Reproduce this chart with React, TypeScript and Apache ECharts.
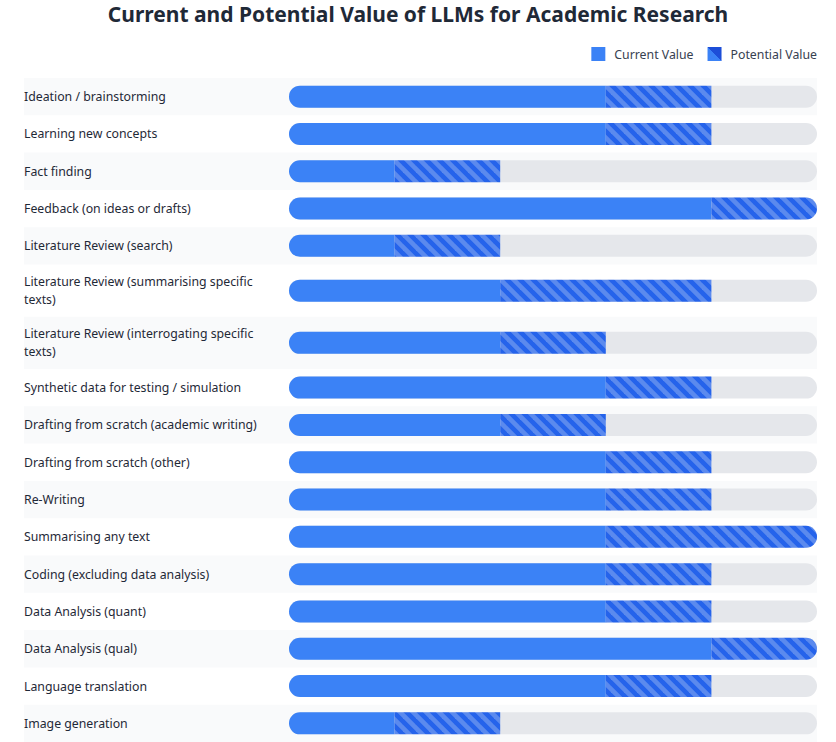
import React, { useEffect, useRef } from "react";
import * as echarts from "echarts";

const chartTitle = "Current and Potential Value of LLMs for Academic Research";
const seriesNames = ["Current Value", "Potential Value"];
const categories = [
  "Ideation / brainstorming",
  "Learning new concepts",
  "Fact finding",
  "Feedback (on ideas or drafts)",
  "Literature Review (search)",
  "Literature Review (summarising specific texts)",
  "Literature Review (interrogating specific texts)",
  "Synthetic data for testing / simulation",
  "Drafting from scratch (academic writing)",
  "Drafting from scratch (other)",
  "Re-Writing",
  "Summarising any text",
  "Coding (excluding data analysis)",
  "Data Analysis (quant)",
  "Data Analysis (qual)",
  "Language translation",
  "Image generation",
];
const currentValues = [3, 3, 1, 4, 1, 2, 2, 3, 2, 3, 3, 3, 3, 3, 4, 3, 1];
const potentialValues = [4, 4, 2, 5, 2, 4, 3, 4, 3, 4, 4, 5, 4, 4, 5, 4, 2];
const scaleMax = 5;

const FONT_FAMILY = '"Noto Sans", "Open Sans", sans-serif';
const LABEL_SIZE = 12.3;
const LABEL_FONT = `${LABEL_SIZE}px ${FONT_FAMILY}`;
const LABEL_WIDTH = 240;
const ROW_1 = 37.5;
const ROW_2 = 52.5;
const BAR_H = 22;

function makeStripe(): string {
  const s = 13;
  const c = document.createElement("canvas");
  c.width = s;
  c.height = s;
  const ctx = c.getContext("2d")!;
  ctx.fillStyle = "#2563eb";
  ctx.fillRect(0, 0, s, s);
  ctx.fillStyle = "#5b8aee";
  const h = s / 4;
  ctx.beginPath();
  ctx.moveTo(0, 0);
  ctx.lineTo(h, 0);
  ctx.lineTo(s, s - h);
  ctx.lineTo(s, s);
  ctx.lineTo(s - h, s);
  ctx.lineTo(0, h);
  ctx.closePath();
  ctx.fill();
  ctx.beginPath();
  ctx.moveTo(s - h, 0);
  ctx.lineTo(s, 0);
  ctx.lineTo(s, h);
  ctx.closePath();
  ctx.fill();
  ctx.beginPath();
  ctx.moveTo(0, s - h);
  ctx.lineTo(0, s);
  ctx.lineTo(h, s);
  ctx.closePath();
  ctx.fill();
  return c.toDataURL();
}

function wrapText(ctx: CanvasRenderingContext2D, text: string, maxW: number): string[] {
  const words = text.split(" ");
  const lines: string[] = [];
  let line = "";
  for (const w of words) {
    const test = line ? line + " " + w : w;
    if (line && ctx.measureText(test).width > maxW) {
      lines.push(line);
      line = w;
    } else {
      line = test;
    }
  }
  if (line) lines.push(line);
  return lines;
}

export default function App() {
  const ref = useRef<HTMLDivElement>(null);
  useEffect(() => {
    document.body.style.margin = "0";
    const chart = echarts.init(ref.current!, null, { renderer: "svg" });

    const mctx = document.createElement("canvas").getContext("2d")!;
    mctx.font = LABEL_FONT;
    const wrapped = categories.map((c) => wrapText(mctx, c, LABEL_WIDTH));
    const heights = wrapped.map((l) => (l.length > 1 ? ROW_2 : ROW_1));
    const starts: number[] = [];
    let acc = 0;
    heights.forEach((h) => {
      starts.push(acc);
      acc += h;
    });
    const total = acc;
    const stripe = makeStripe();
    const pattern: any = { image: stripe, repeat: "repeat", imageWidth: 13, imageHeight: 13 };

    const rows = categories.map((_, i) => [i, starts[i], starts[i] + heights[i], currentValues[i], potentialValues[i]]);

    const geom = (api: any) => {
      const y0 = api.value(1);
      const y1 = api.value(2);
      const a = api.coord([0, y0]);
      const b = api.coord([scaleMax, y1]);
      return { left: a[0], right: b[0], top: a[1], bottom: b[1], cy: (a[1] + b[1]) / 2 };
    };

    chart.setOption({
      animation: false,
      title: {
        text: chartTitle,
        left: "center",
        top: 3,
        padding: 0,
        textStyle: { fontSize: 21, fontWeight: "bold", color: "#1f2937", fontFamily: FONT_FAMILY },
      },
      legend: {
        right: 19,
        top: 47,
        padding: 0,
        itemWidth: 14,
        itemHeight: 14,
        itemGap: 14,
        icon: "rect",
        selectedMode: false,
        textStyle: { fontSize: LABEL_SIZE, color: "#374151", fontFamily: FONT_FAMILY, padding: [0, 0, 0, 4] },
        data: [
          { name: seriesNames[0], itemStyle: { color: "#3b82f6" } },
          {
            name: seriesNames[1],
            itemStyle: {
              color: new echarts.graphic.LinearGradient(0, 1, 1, 0, [
                { offset: 0, color: "#3b82f6" },
                { offset: 0.5, color: "#3b82f6" },
                { offset: 0.5, color: "#1d4ed8" },
                { offset: 1, color: "#1d4ed8" },
              ]),
            },
          },
        ],
      },
      grid: { left: 289, right: 19, top: 78, height: total },
      xAxis: { type: "value", min: 0, max: scaleMax, show: false },
      yAxis: { type: "value", min: 0, max: total, inverse: true, show: false },
      series: [
        {
          type: "custom",
          name: "rows",
          clip: false,
          silent: true,
          data: rows,
          renderItem: (params: any, api: any) => {
            const i = api.value(0);
            const g = geom(api);
            const stripeLeft = 24;
            const children: any[] = [];
            if (i % 2 === 0) {
              children.push({
                type: "rect",
                shape: { x: stripeLeft, y: g.top, width: g.right - stripeLeft, height: g.bottom - g.top },
                style: { fill: "#f9fafb" },
              });
            }
            children.push({
              type: "text",
              x: stripeLeft,
              y: g.cy,
              style: {
                text: wrapped[i].join("\n"),
                font: LABEL_FONT,
                fill: "#1f2937",
                lineHeight: 18,
                verticalAlign: "middle",
                align: "left",
              },
            });
            children.push({
              type: "rect",
              shape: { x: g.left, y: g.cy - BAR_H / 2, width: g.right - g.left, height: BAR_H, r: BAR_H / 2 },
              style: { fill: "#e5e7eb" },
            });
            return { type: "group", children };
          },
        },
        {
          type: "custom",
          name: seriesNames[0],
          clip: false,
          itemStyle: { color: "#3b82f6" },
          data: rows,
          renderItem: (params: any, api: any) => {
            const g = geom(api);
            const cur = api.value(3);
            const xEnd = api.coord([cur, 0])[0];
            const full = cur >= scaleMax;
            const r = BAR_H / 2;
            return {
              type: "rect",
              shape: { x: g.left, y: g.cy - BAR_H / 2, width: xEnd - g.left, height: BAR_H, r: full ? r : [r, 0, 0, r] },
              style: { fill: "#3b82f6" },
            };
          },
        },
        {
          type: "custom",
          name: seriesNames[1],
          clip: false,
          itemStyle: { color: "#2563eb" },
          data: rows,
          renderItem: (params: any, api: any) => {
            const g = geom(api);
            const cur = api.value(3);
            const pot = api.value(4);
            const xs = api.coord([cur, 0])[0];
            const xe = api.coord([pot, 0])[0];
            const r = BAR_H / 2;
            return {
              type: "rect",
              shape: { x: xs, y: g.cy - BAR_H / 2, width: xe - xs, height: BAR_H, r: pot >= scaleMax ? [0, r, r, 0] : 0 },
              style: { fill: pattern },
            };
          },
        },
      ],
    });
    return () => chart.dispose();
  }, []);
  return <div ref={ref} style={{ position: "absolute", left: 0, top: 0, width: 836, height: 742 }} />;
}
